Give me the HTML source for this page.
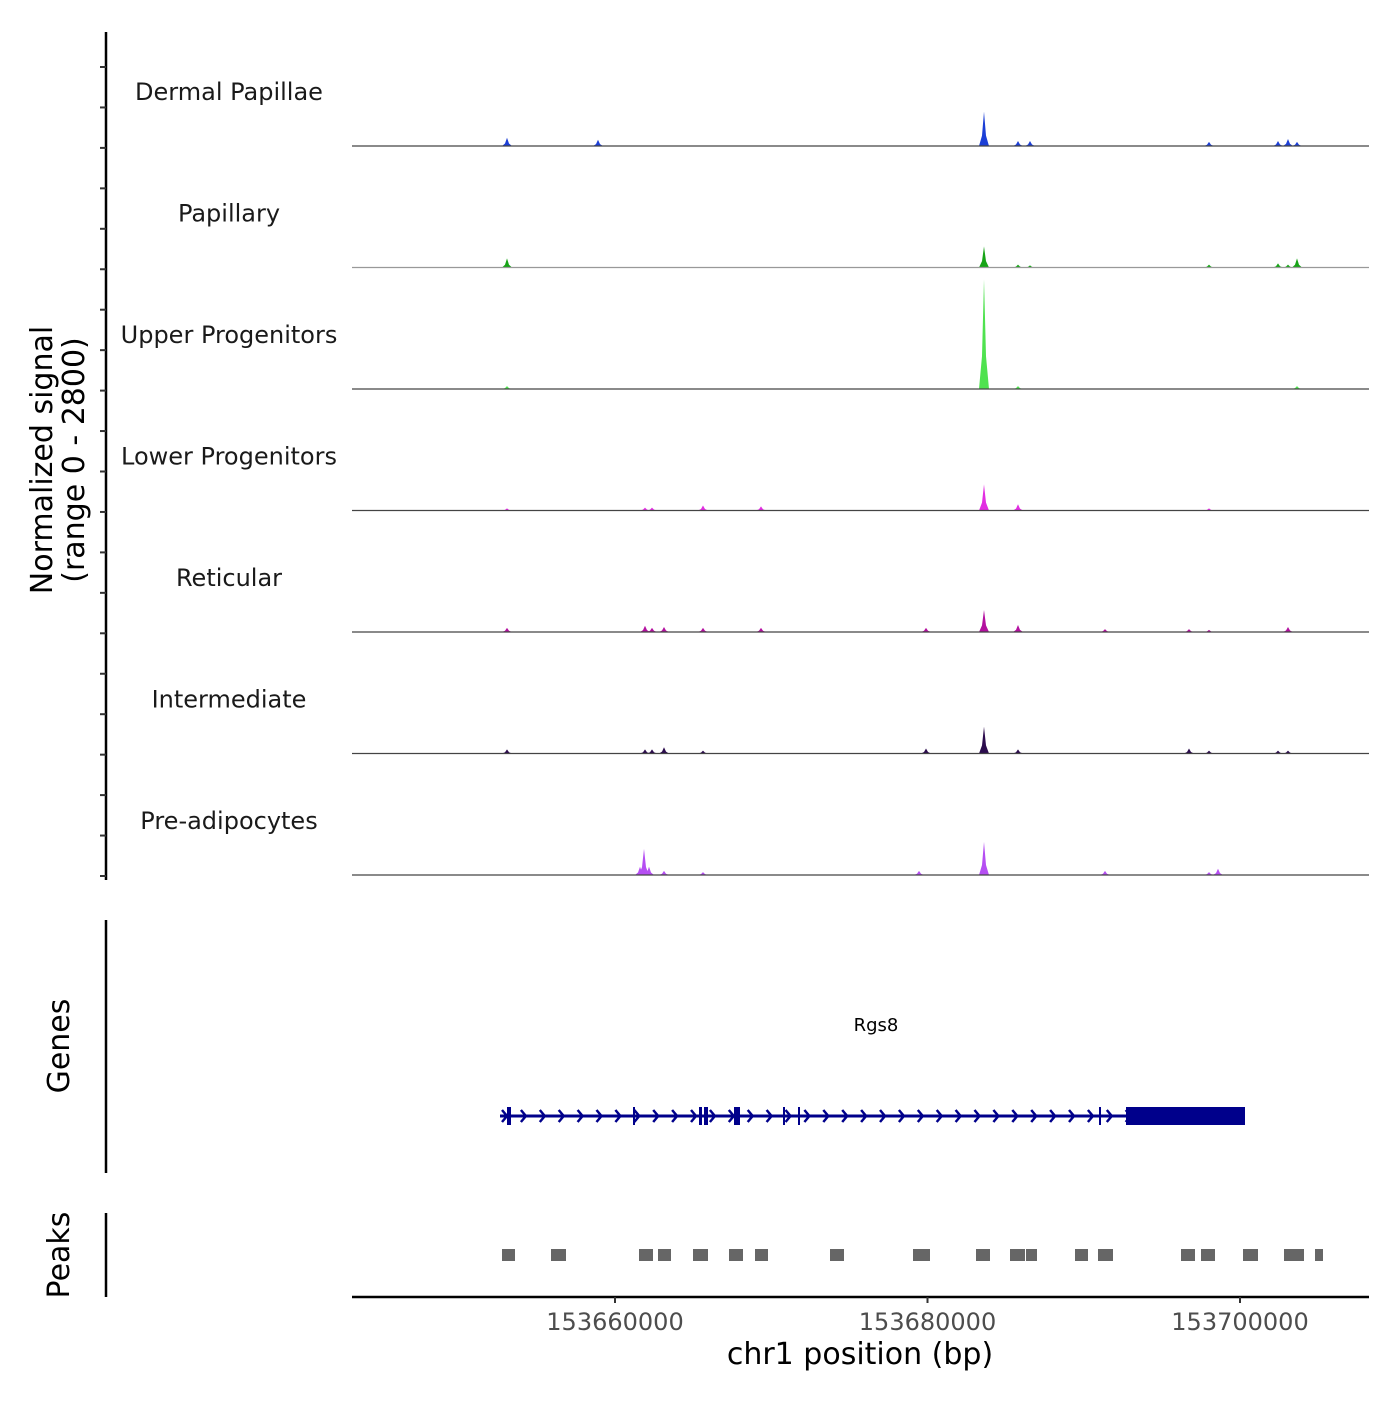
<!DOCTYPE html>
<html><head><meta charset="utf-8"><style>
html,body{margin:0;padding:0;background:#fff;}
svg text{font-family:"DejaVu Sans","Liberation Sans",sans-serif;}
</style></head><body>
<svg id="chart" width="1400" height="1400" viewBox="0 0 1400 1400" xmlns="http://www.w3.org/2000/svg">
<g id="yaxis">
<line x1="106" y1="32" x2="106" y2="880" stroke="#000" stroke-width="2.5"/>
</g>
<text transform="translate(52,460) rotate(-90)" text-anchor="middle" font-size="30" fill="#000">Normalized signal</text>
<text transform="translate(84,460) rotate(-90)" text-anchor="middle" font-size="30" fill="#000">(range 0 - 2800)</text>
<g id="tracks"></g>
<line x1="106" y1="920" x2="106" y2="1173" stroke="#000" stroke-width="2.5"/>
<text transform="translate(69,1046) rotate(-90)" text-anchor="middle" font-size="30">Genes</text>
<text x="876" y="1031" text-anchor="middle" font-size="18">Rgs8</text>
<g id="gene"></g>
<line x1="106" y1="1213" x2="106" y2="1297" stroke="#000" stroke-width="2.5"/>
<text transform="translate(69,1255) rotate(-90)" text-anchor="middle" font-size="30">Peaks</text>
<g id="peaks"></g>
<g id="xaxis">
<line x1="352" y1="1297" x2="1369" y2="1297" stroke="#000" stroke-width="2.5"/>
</g>
<text x="860" y="1364" text-anchor="middle" font-size="30">chr1 position (bp)</text>
</svg>
<script>
const NS="http://www.w3.org/2000/svg";
const xStart=153643168, xEnd=153708256;
const trackNames=["Dermal Papillae","Papillary","Upper Progenitors","Lower Progenitors","Reticular","Intermediate","Pre-adipocytes"];
const trackColors=["#1c3fd6","#17a417","#4fe24f","#e22ee2","#b3109f","#2c0c4d","#b54ef2"];
const yMax=2800;
const xTicks=[153660000,153680000,153700000];
const dermalPos=[153653088,153658912,153683616,153685792,153686560,153698016,153702432,153703072,153703648];
const dermalVal=[200,150,830,120,120,100,120,170,100];
const papillaryPos=[153653088,153683616,153685792,153686560,153698016,153702432,153703072,153703648];
const papillaryVal=[220,510,70,50,70,100,70,220];
const upperPos=[153653088,153683616,153685792,153703648];
const upperVal=[70,2650,70,70];
const lowerPos=[153653088,153661920,153662368,153665632,153669344,153683616,153685792,153698016];
const lowerVal=[50,70,70,120,100,630,150,50];
const reticularPos=[153653088,153661920,153662368,153663136,153665632,153669344,153679904,153683616,153685792,153691360,153696736,153698016,153703072];
const reticularVal=[100,150,100,120,100,100,100,530,170,70,70,50,120];
const intermediatePos=[153653088,153661920,153662368,153663136,153665632,153679904,153683616,153685792,153696736,153698016,153702432,153703072];
const intermediateVal=[100,100,100,150,70,120,650,100,120,70,70,70];
const preadipoPos=[153661600,153661856,153662176,153663136,153665632,153679456,153683616,153691360,153698016,153698592];
const preadipoVal=[200,630,200,100,70,100,800,100,70,150];
const trackPos=[dermalPos,papillaryPos,upperPos,lowerPos,reticularPos,intermediatePos,preadipoPos];
const trackVal=[dermalVal,papillaryVal,upperVal,lowerVal,reticularVal,intermediateVal,preadipoVal];
const peakStart=[153652768,153655904,153661536,153662752,153664992,153667296,153668960,153673760,153679072,153683104,153685280,153686304,153689440,153690912,153696224,153697504,153700192,153702816,153704800];
const peakEnd=[153653600,153656864,153662432,153663584,153665952,153668192,153669792,153674656,153680160,153684000,153686240,153687008,153690272,153691872,153697120,153698400,153701152,153704096,153705312];
const exonStart=[153653088,153661152,153665376,153665696,153667616,153670752,153671712,153690976,153692704];
const exonEnd=[153653344,153661280,153665568,153665952,153668000,153670880,153671840,153691104,153700320];
const geneStart=153652640, geneEnd=153700320;

const pl=352, pr=1369;
function xs(v){return pl+(v-xStart)/(xEnd-xStart)*(pr-pl);}
const base0=146, step=121.5, trackH=116;
function ys(i,v){return base0+i*step - v/yMax*trackH;}
const tracks=document.getElementById('tracks');
const yaxis=document.getElementById('yaxis');
for(let k=0;k<21;k++){
  const t=document.createElementNS(NS,'line');
  const y=67+k*40.45;
  t.setAttribute('x1',100);t.setAttribute('x2',106);t.setAttribute('y1',y);t.setAttribute('y2',y);
  t.setAttribute('stroke','#333');t.setAttribute('stroke-width','2');
  
  
  yaxis.appendChild(t);
}
trackNames.forEach((name,i)=>{
  const g=document.createElementNS(NS,'g');
  
  
  const b=ys(i,0);
  const lab=document.createElementNS(NS,'text');
  lab.setAttribute('x',229);lab.setAttribute('y',b-46);lab.setAttribute('text-anchor','middle');
  lab.setAttribute('font-size','24');lab.setAttribute('fill','#1a1a1a');
  lab.textContent=name;
  
  
  g.appendChild(lab);
  trackPos[i].forEach((p,j)=>{
    const x=xs(p), y=ys(i,trackVal[i][j]);
    const path=document.createElementNS(NS,'path');
    path.setAttribute('d',`M${x-5},${b} L${x-2},${b-(b-y)*0.3} L${x},${y} L${x+2},${b-(b-y)*0.3} L${x+5},${b} Z`);
    path.setAttribute('fill',trackColors[i]);
    
    
    g.appendChild(path);
  });
  const ln=document.createElementNS(NS,'line');
  ln.setAttribute('x1',pl);ln.setAttribute('x2',pr);ln.setAttribute('y1',b);ln.setAttribute('y2',b);
  ln.setAttribute('stroke',i===1?'#999':'#444');ln.setAttribute('stroke-width','1.3');
  
  
  g.appendChild(ln);
  tracks.appendChild(g);
});
const gene=document.getElementById('gene');
const gy=1116;
const gl=document.createElementNS(NS,'line');
gl.setAttribute('x1',xs(geneStart));gl.setAttribute('x2',xs(geneEnd));gl.setAttribute('y1',gy);gl.setAttribute('y2',gy);
gl.setAttribute('stroke','#00008b');gl.setAttribute('stroke-width','3');


gene.appendChild(gl);
for(let x=xs(geneStart)+2;x<xs(exonStart[8]);x+=18.9){
  const a=document.createElementNS(NS,'path');
  a.setAttribute('d',`M${x},${gy-6} L${x+5},${gy} L${x},${gy+6}`);
  a.setAttribute('fill','none');a.setAttribute('stroke','#00008b');a.setAttribute('stroke-width','2.5');
  
  
  gene.appendChild(a);
}
exonStart.forEach((s,i)=>{
  const r=document.createElementNS(NS,'rect');
  r.setAttribute('x',xs(s));r.setAttribute('width',Math.max(2,xs(exonEnd[i])-xs(s)));
  r.setAttribute('y',1107);r.setAttribute('height',18);
  r.setAttribute('fill','#00008b');
  
  
  gene.appendChild(r);
});
const peaks=document.getElementById('peaks');
peakStart.forEach((s,i)=>{
  const r=document.createElementNS(NS,'rect');
  r.setAttribute('x',xs(s));r.setAttribute('width',xs(peakEnd[i])-xs(s));
  r.setAttribute('y',1249);r.setAttribute('height',12);r.setAttribute('fill','#666');
  
  
  peaks.appendChild(r);
});
const xaxis=document.getElementById('xaxis');
xTicks.forEach(t=>{
  const x=xs(t);
  const l=document.createElementNS(NS,'line');
  l.setAttribute('x1',x);l.setAttribute('x2',x);l.setAttribute('y1',1297);l.setAttribute('y2',1303);
  l.setAttribute('stroke','#333');l.setAttribute('stroke-width','2');
  
  
  xaxis.appendChild(l);
  const tx=document.createElementNS(NS,'text');
  tx.setAttribute('x',x);tx.setAttribute('y',1330);tx.setAttribute('text-anchor','middle');
  tx.setAttribute('font-size','24');tx.setAttribute('fill','#4d4d4d');
  tx.textContent=t;
  
  
  xaxis.appendChild(tx);
});
</script>
</body></html>
